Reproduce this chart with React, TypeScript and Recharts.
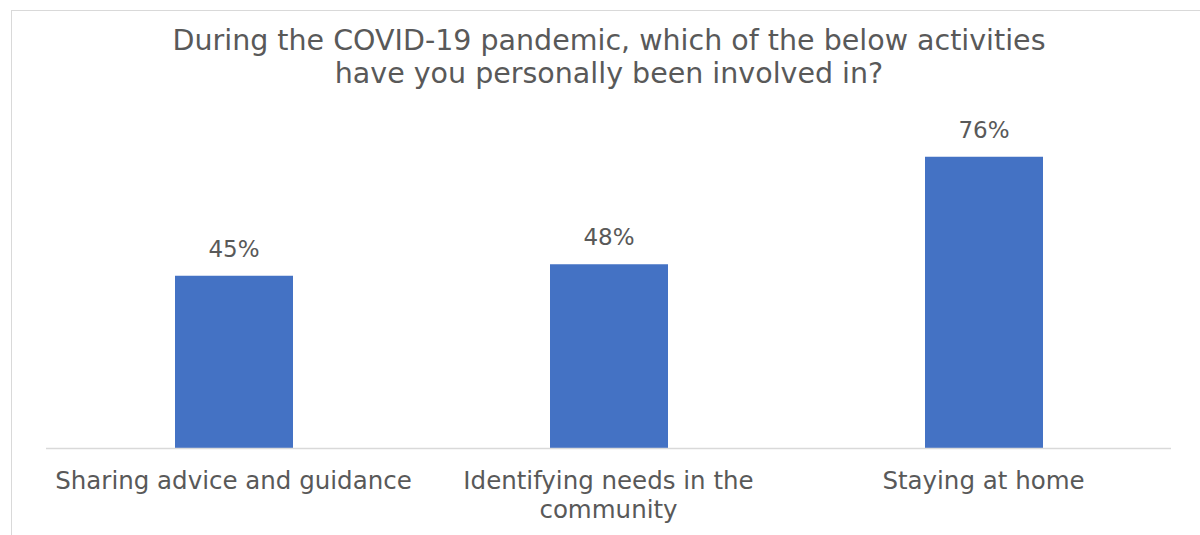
import { BarChart, Bar, XAxis, YAxis, LabelList } from 'recharts';

// category names, "\n" marks where the axis label breaks onto a second line
const categories = [
  'Sharing advice and guidance',
  'Identifying needs in the\ncommunity',
  'Staying at home',
];
const shares = [45, 48, 76];
const yTicks = [0, 20, 40, 60, 80];

const data = categories.map((name, i) => ({ name, value: shares[i] }));

const FONT = '"DejaVu Sans", sans-serif';
const TEXT = '#595959';

function CategoryTick({ x, y, payload }: any) {
  const lines = String(payload.value).split('\n');
  return (
    <text
      x={x}
      y={y + 32.5}
      textAnchor="middle"
      fill={TEXT}
      fontSize={24.5}
      fontFamily={FONT}
    >
      {lines.map((line, i) => (
        <tspan key={i} x={x} dy={i === 0 ? 0 : 29}>
          {line}
        </tspan>
      ))}
    </text>
  );
}

export default function App() {
  return (
    <div
      style={{
        position: 'absolute',
        left: 11,
        top: 10,
        width: 1194,
        height: 540,
        border: '1px solid #d9d9d9',
        background: '#fff',
        fontFamily: FONT,
      }}
    >
      <div
        style={{
          position: 'absolute',
          top: 12.5,
          left: 0,
          width: 1194,
          textAlign: 'center',
          fontSize: 28.5,
          lineHeight: '33px',
          color: TEXT,
          whiteSpace: 'nowrap',
        }}
      >
        During the COVID-19 pandemic, which of the below activities
        <br />
        have you personally been involved in?
      </div>
      <BarChart
        width={1194}
        height={520}
        data={data}
        margin={{ top: 130.5, right: 35, bottom: 6.5, left: 34 }}
      >
        <XAxis
          dataKey="name"
          height={76}
          axisLine={{ stroke: '#d9d9d9', strokeWidth: 1.5 }}
          tickLine={false}
          interval={0}
          tick={<CategoryTick />}
        />
        <YAxis hide domain={[0, 80]} ticks={yTicks} />
        <Bar dataKey="value" fill="#4472C4" barSize={118} isAnimationActive={false}>
          <LabelList
            dataKey="value"
            position="top"
            offset={19}
            formatter={(v: any) => `${v}%`}
            fill={TEXT}
            fontSize={23}
            fontFamily={FONT}
          />
        </Bar>
      </BarChart>
    </div>
  );
}
